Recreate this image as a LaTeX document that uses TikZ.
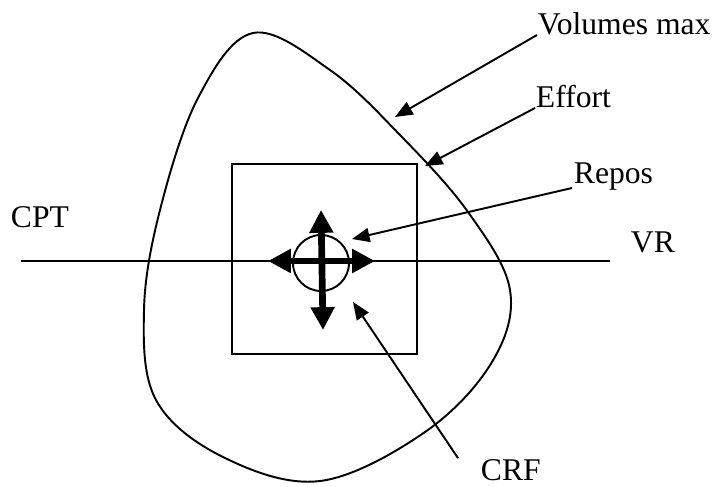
\documentclass[tikz,border=0pt]{standalone}
\usepackage{fontspec}
\setmainfont{Liberation Serif}
\usepackage{tikz}
\usetikzlibrary{positioning, arrows.meta, calc}

\begin{document}
\begin{tikzpicture}[x=0.02cm, y=-0.02cm, line width=1.1pt]
        \tikzstyle{tag} = [inner sep=0pt, anchor=base west, font=\fontsize{18}{21}\selectfont]
        \tikzstyle{pointer} = [line width=1.1pt, -{Triangle[length=10pt, width=8pt]}]
        \tikzstyle{bigarrow} = [line width=3.8pt, {Triangle[length=13pt, width=13pt]}-{Triangle[length=13pt, width=13pt]}]

        \useasboundingbox (0,0) rectangle (715,486);

        % volume envelope
        \draw plot[smooth cycle, tension=0.6] coordinates {(253,33) (330,70) (400,135) (468,212) (510,290) (492,362) (425,432) (320,481) (223,457) (156,400) (144,310) (160,210) (198,98)};

        \coordinate (axisL) at (21,261);
        \coordinate (axisR) at (610,261);
        \draw (axisL) -- (axisR);

        \node [draw, minimum width=3.7cm, minimum height=3.8cm] (zone) at (324.5,259) {};
        \node [draw, circle, minimum size=1.12cm] (rest) at (321,263) {};

        \coordinate (up) at (321,210);
        \coordinate (down) at (323,330);
        \coordinate (left) at (268,261);
        \coordinate (right) at (375,261);
        \draw [bigarrow] (up) -- (down);
        \draw [bigarrow] (left) -- (right);

        \node [tag] (volmax) at (537,35) {Volumes max};
        \node [tag] (effort) at (535,108) {Effort};
        \node [tag] (repos) at (573,183) {Repos};
        \node [tag] (cpt) at (10,227) {CPT};
        \node [tag] (vr) at (630,252) {VR};
        \node [tag] (crf) at (480,480) {CRF};

        \coordinate (volmax tip) at (395,117);
        \coordinate (effort tip) at (425,166);
        \coordinate (repos tip) at (352,239);
        \coordinate (crf tip) at (353,302);

        \draw [pointer] (volmax.base west) -- (volmax tip);
        \draw [pointer] (effort.base west) -- (effort tip);
        \draw [pointer] ($(repos.base west)+(-1,5)$) -- (repos tip);
        \draw [pointer] ($(crf.north west)+(-22,0)$) -- (crf tip);
\end{tikzpicture}
\end{document}
